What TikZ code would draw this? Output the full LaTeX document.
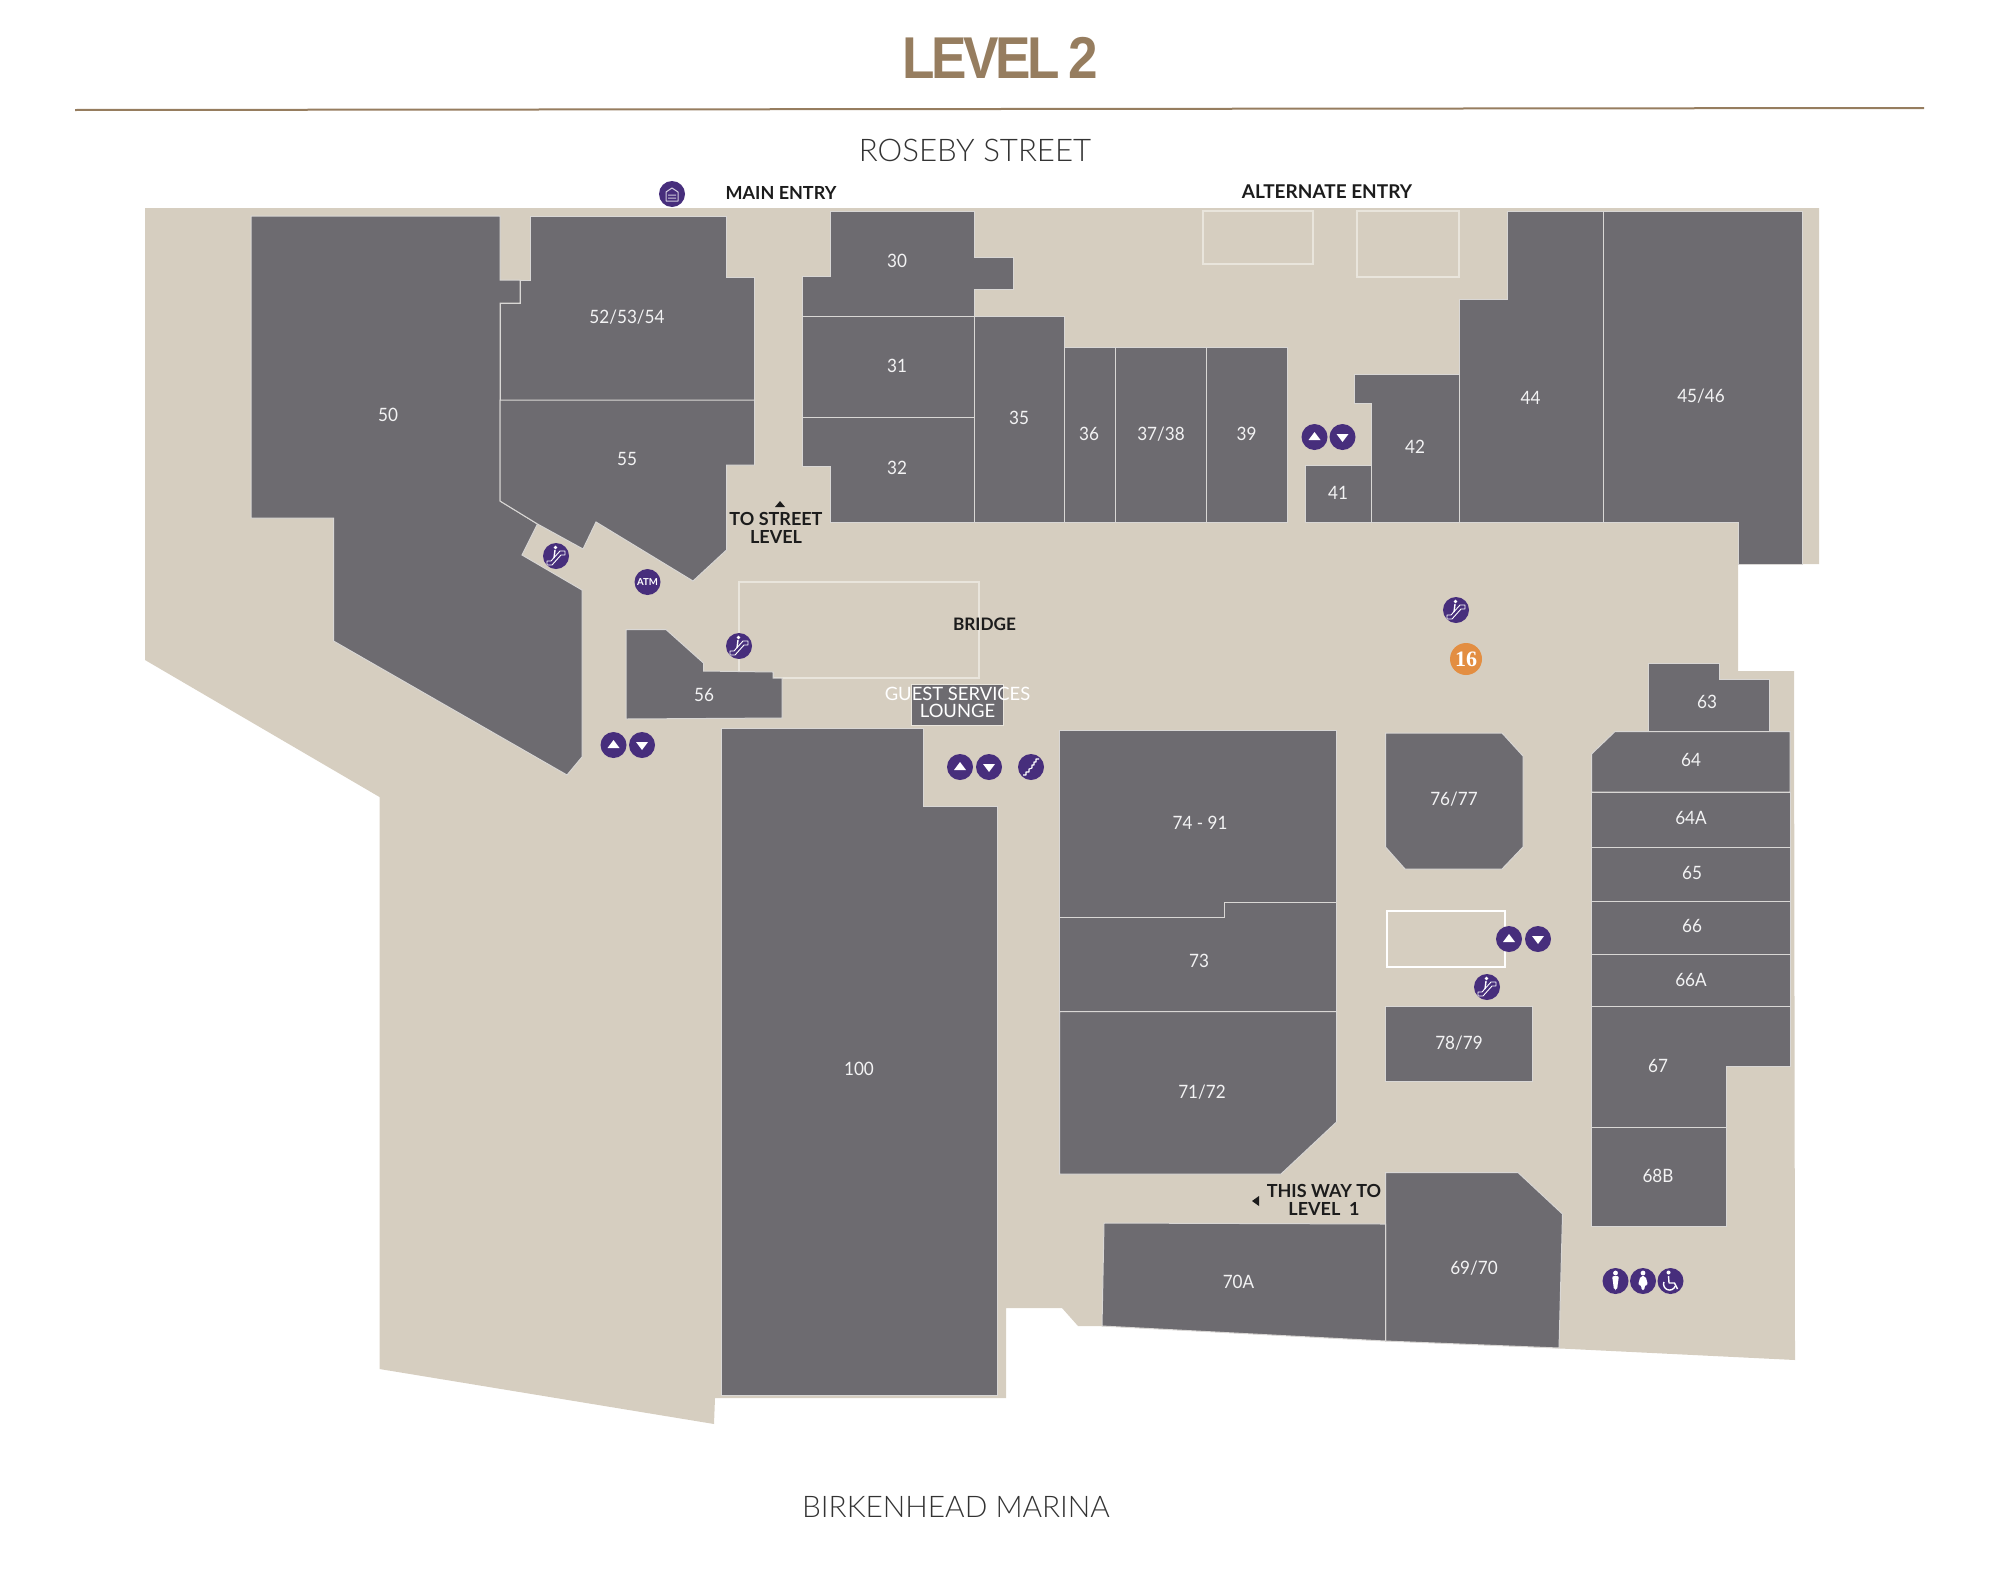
\documentclass[tikz,border=0pt]{standalone}
\usepackage{fontspec}
\setmainfont{Lato}
\newfontfamily\titlef[LetterSpace=-6,FakeStretch=0.9,BoldFont={Liberation Sans Bold},WordSpace=0.8]{Liberation Sans}
\newfontfamily\serf{Liberation Serif}
\newfontfamily\lightf{Lato Light}
\newfontfamily\labf[FakeStretch=0.93]{Lato}
\definecolor{floorc}{HTML}{D6CEC0}
\definecolor{shopc}{HTML}{6D6B70}
\definecolor{edgec}{HTML}{D9D7D5}
\definecolor{voidc}{HTML}{E9E5DC}
\definecolor{purp}{HTML}{472E7C}
\definecolor{gold}{HTML}{967D5F}
\definecolor{orangec}{HTML}{E38E42}
\definecolor{darktxt}{HTML}{1C1C1C}
\definecolor{streettxt}{HTML}{333333}
\tikzset{
  x=0.5pt,y=-0.5pt,
  shop/.style={fill=shopc,draw=edgec,line width=0.5pt,line join=miter},
  voidbox/.style={draw=voidc,line width=0.8pt,fill=none},
  lab/.style={inner sep=0,text=white!92!shopc,font=\fontsize{9.2}{10}\selectfont\labf},
  blk/.style={inner sep=0,text=darktxt,font=\fontsize{9}{9}\selectfont\bfseries},
  street/.style={inner sep=0,text=streettxt,font=\fontsize{15.6}{17}\selectfont\lightf},
  disc/.style={circle,fill=purp,minimum size=13pt,inner sep=0,draw=none},
  wline/.style={draw=white,line width=0.45pt,line join=round},
  liftup/.pic={\node[disc]{};\fill[white] (-6,3)--(6,3)--(0,-5)--cycle;},
  liftdn/.pic={\node[disc]{};\fill[white] (-6,-3)--(6,-3)--(0,5)--cycle;},
  escal/.pic={\node[disc]{};
    \draw[wline] (-9,5)--(-5,5)--(4,-5)--(9,-5)--(9,-1)--(5,-1)--(-4,9)--(-9,9)--cycle;
    \draw[wline,line width=.7pt] (-1,-6)--(-2,2);
    \fill[white] (-.5,-8.5) circle (1.8);},
  stairs/.pic={\node[disc]{};
    \draw[wline,line width=.55pt] (-8,8)--(-5,8)--(-5,5)--(-2,5)--(-2,2)--(1,1)--(1,-2)--(3,-2)--(3,-5)--(5,-5)--(5,-8)--(8,-8);},
  garage/.pic={\node[disc]{};
    \draw[draw=white!75!purp,line width=.5pt,line join=round] (-6,7)--(-6,-2)--(0,-6)--(6,-2)--(6,7)--cycle (-4,1)--(4,1) (-4,4)--(4,4);},
  maleic/.pic={\node[disc]{};
    \fill[white] (0,-8) circle (2.4);
    \fill[white,rounded corners=1] (-3.5,-5)--(3.5,-5)--(2.5,1)--(1.6,9)--(-1.6,9)--(-2.5,1)--cycle;},
  femaleic/.pic={\node[disc]{};
    \fill[white] (0,-8) circle (2.4);
    \fill[white,rounded corners=1] (-2.5,-5)--(2.5,-5)--(5,4)--(1.8,4)--(1.6,9)--(-1.6,9)--(-1.8,4)--(-5,4)--cycle;},
  accic/.pic={\node[disc]{};
    \fill[white] (-2,-8.5) circle (2);
    \draw[white,line width=.7pt,line join=round] (-2,-5)--(-1.5,2)--(4,2)--(7,8);
    \draw[white,line width=.7pt] (-6.6,1) arc[start angle=200,end angle=20,radius=6];}
}
\begin{document}
\begin{tikzpicture}
\useasboundingbox (0,0) rectangle (1990,1574);
% floor
\fill[floorc] (145,208)--(1819,208)--(1819,564)--(1738,564)--(1738,671)--(1794,671)--(1795,1360)--(1102,1326)--(1078,1326)--(1062,1308)--(1006,1308)--(1006,1398)--(715,1398)--(714,1424)--(379.5,1369)--(379.5,797)--(145,660)--cycle;
% void outlines
\draw[voidbox] (1203,211) rectangle (1313,264);
\draw[voidbox] (1357,211) rectangle (1459,277);
\draw[voidbox] (739,672)--(739,582)--(979,582)--(979,678)--(773,678)--(773,672);
\draw[draw=white,line width=1.1pt] (1387,911) rectangle (1505,967);
% shops: west
\draw[shop] (251,216)--(500,216)--(500,280)--(520,280)--(520,303)--(500,303)--(500,501)--(537.5,524)--(522,555)--(582,590)--(582,757)--(567,775)--(333.5,641)--(333.5,518)--(251,518)--cycle;
\draw[shop] (530.5,216)--(726.5,216)--(726.5,277)--(754.5,277)--(754.5,400)--(500,400)--(500,303)--(520,303)--(520,280)--(530.5,280)--cycle;
\draw[shop] (500,400)--(754.5,400)--(754.5,465)--(726.5,465)--(726.5,550)--(693,581)--(596,522)--(583,549)--(537.5,524)--(500,501)--cycle;
\draw[shop] (626,629.5)--(666,629.5)--(703.5,663)--(703.5,671)--(773,672)--(773,678)--(782,678)--(782,718)--(626,719)--cycle;
% shops: north row
\draw[shop] (830.5,211.5)--(974.5,211.5)--(974.5,257)--(1013,257)--(1013,289)--(974.5,289)--(974.5,316)--(802.5,316)--(802.5,276)--(830.5,276)--cycle;
\draw[shop] (802.5,316) rectangle (974.5,417);
\draw[shop] (802.5,417)--(974.5,417)--(974.5,522.5)--(830.5,522.5)--(830.5,466)--(802.5,466)--cycle;
\draw[shop] (974.5,316) rectangle (1064,522.5);
\draw[shop] (1064,347) rectangle (1115,522.5);
\draw[shop] (1115,347) rectangle (1206,522.5);
\draw[shop] (1206,347) rectangle (1287.5,522.5);
\draw[shop] (1305.5,465) rectangle (1371,522.5);
\draw[shop] (1354.5,374)--(1459,374)--(1459,522.5)--(1371,522.5)--(1371,403)--(1354.5,403)--cycle;
\draw[shop] (1507.5,211)--(1603,211)--(1603,522.5)--(1459,522.5)--(1459,299)--(1507.5,299)--cycle;
\draw[shop] (1603,211)--(1802.5,211)--(1802.5,564)--(1738,564)--(1738,522.5)--(1603,522.5)--cycle;
% guest services
\draw[shop,draw=voidc] (911,684) rectangle (1003,725);
% centre
\draw[shop] (721,728)--(923,728)--(923,806)--(997.5,806)--(997.5,1395)--(721,1395)--cycle;
\draw[shop] (1059.5,730)--(1336.5,730)--(1336.5,902)--(1224,902)--(1224,917)--(1059.5,917)--cycle;
\draw[shop] (1059.5,917)--(1224,917)--(1224,902)--(1336.5,902)--(1336.5,1011.5)--(1059.5,1011.5)--cycle;
\draw[shop] (1059.5,1011.5)--(1336.5,1011.5)--(1336.5,1122)--(1281,1174)--(1059.5,1174)--cycle;
\draw[shop] (1385.5,733)--(1502,733)--(1523,756)--(1523,847)--(1502,869)--(1405,869)--(1385.5,847)--cycle;
\draw[shop] (1385.5,1006.5) rectangle (1532,1081);
% east column
\draw[shop] (1648,663)--(1719,663)--(1719,679)--(1769,679)--(1769,731)--(1648,731)--cycle;
\draw[shop] (1591.5,754)--(1615,731.5)--(1790,731.5)--(1790,792)--(1591.5,792)--cycle;
\draw[shop] (1591.5,792) rectangle (1790,847);
\draw[shop] (1591.5,847) rectangle (1790,901);
\draw[shop] (1591.5,901) rectangle (1790,954);
\draw[shop] (1591.5,954) rectangle (1790,1006);
\draw[shop] (1591.5,1006)--(1790,1006)--(1790,1066)--(1726,1066)--(1726,1127)--(1591.5,1127)--cycle;
\draw[shop] (1591.5,1127) rectangle (1726,1226);
\draw[shop] (1385.5,1172.5)--(1518,1172.5)--(1562.5,1214)--(1559,1348)--(1385.5,1341)--cycle;
\draw[shop] (1104,1223)--(1385.5,1224)--(1385.5,1341)--(1102,1326)--cycle;
% title
\node[inner sep=0,text=gold,font=\fontsize{29.5}{32}\selectfont\titlef\bfseries] (title) at (1000.5,58) {LEVEL 2};
\coordinate (ruleL) at (75,110); \coordinate (ruleR) at (1924,108);
\draw[gold,line width=1pt] (ruleL)--(ruleR);
\node[street] (roseby) at (975,150) {ROSEBY STREET};
\node[street,font=\fontsize{14.9}{17}\selectfont\lightf] (marina) at (956,1507) {BIRKENHEAD MARINA};
\node[blk] (mainentry) at (781,193) {MAIN ENTRY};
\node[blk,font=\fontsize{9.5}{10}\selectfont\bfseries] (altentry) at (1327,192) {ALTERNATE ENTRY};
\node[blk,align=center] (tostreet) at (776,528) {TO STREET\\LEVEL};
\fill[darktxt] (775,507)--(785,507)--(780,501)--cycle;
\node[blk,font=\fontsize{8.6}{10}\selectfont\bfseries] (bridge) at (984.5,624) {BRIDGE};
\node[blk,align=center] (thisway) at (1324,1199.5) {THIS WAY TO\\LEVEL\ \ 1};
\fill[darktxt] (1259,1196)--(1259,1206)--(1252,1201)--cycle;
\node[inner sep=0,text=white,font=\fontsize{9.2}{8.2}\selectfont,align=center] (guest) at (957.5,702.5) {GUEST SERVICES\\LOUNGE};
% labels
\foreach \n/\t/\x/\y in {s50/50/388/415,s525/52\slash 53\slash 54/627/317,s55/55/627/459,s30/30/897/261,s31/31/897/366,s32/32/897/468,s35/35/1019/418,s36/36/1089/434,s37/37\slash 38/1161/434,s39/39/1246.5/434,s41/41/1338/493,s42/42/1415/447,s44/44/1530.5/397.5,s45/45\slash 46/1701/396,s56/56/704/695,s63/63/1707/702,s64/64/1691/760,s64a/64A/1691/818,s65/65/1692/873,s66/66/1692/926,s66a/66A/1691/980,s67/67/1658/1066,s68/68B/1658/1176,s76/76\slash 77/1454/799,s78/78\slash 79/1459/1043,s71/71\slash 72/1202/1092,s73/73/1199/961,s74/74 - 91/1200/823,s69/69\slash 70/1474/1268,s70/70A/1238.5/1282,s100/100/859/1069}
  \node[lab] (\n) at (\x,\y) {\t};
% icons
\pic at (672,194) {garage};
\pic at (556,556) {escal};
\pic at (739,646) {escal};
\pic at (1456,610) {escal};
\pic at (1487,987) {escal};
\pic at (1031,767) {stairs};
\node[disc] (atm) at (647.5,582) {}; \node[inner sep=0,text=white,font=\fontsize{4.8}{5}\selectfont\bfseries] (atmt) at (647.5,582) {ATM};
\pic at (613.5,745) {liftup}; \pic at (642,745) {liftdn};
\pic at (960,767) {liftup}; \pic at (989,767) {liftdn};
\pic at (1314.5,437) {liftup}; \pic at (1342.5,437) {liftdn};
\pic at (1509,939) {liftup}; \pic at (1538,939) {liftdn};
\node[circle,fill=orangec,minimum size=16pt,inner sep=0,text=white,font=\fontsize{11}{11}\selectfont\serf\bfseries] (sixteen) at (1466,659) {16};
\pic at (1615.5,1281) {maleic};
\pic at (1643,1281) {femaleic};
\pic at (1670.5,1281) {accic};
\end{tikzpicture}
\end{document}
